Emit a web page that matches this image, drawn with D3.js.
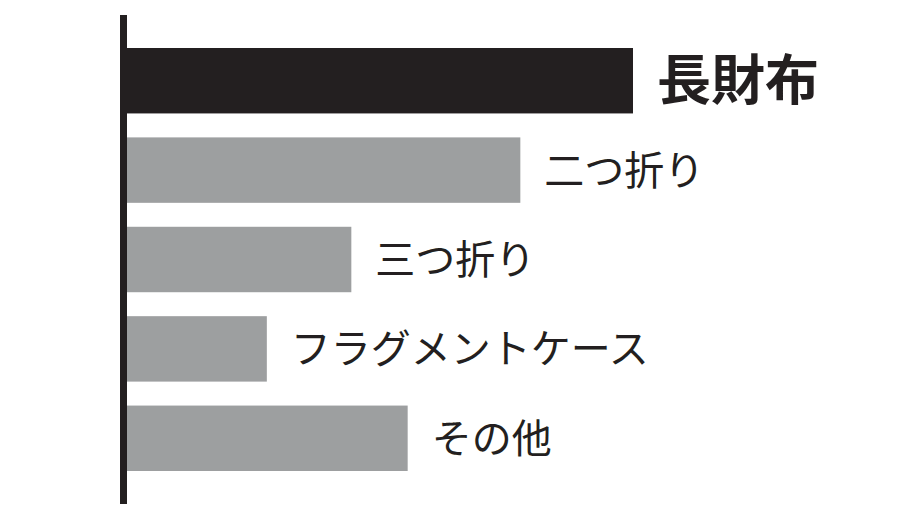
<!DOCTYPE html>
<html>
<head>
<meta charset="utf-8">
<script src="https://cdn.jsdelivr.net/npm/d3@7"></script>
<style>
  body { margin: 0; background: #fff; }
  text { font-family: "Noto Sans CJK JP", "Noto Sans", sans-serif; }
</style>
</head>
<body>
<div id="chart"></div>
<script>
// wallet type shares
const categories = ["長財布", "二つ折り", "三つ折り", "フラグメントケース", "その他"]
const values = [36, 28, 16, 10, 20]
const highlight = "長財布"

const width = 903
const height = 530

const svg = d3.select("#chart").append("svg")
    .attr("width", width)
    .attr("height", height)

const x = d3.scaleLinear()
    .domain([0, 36])
    .range([126, 633])

const y = d3.scaleBand()
    .domain(categories)
    .range([48, 471])
    .paddingInner(0.268)
    .paddingOuter(0)

const data = categories.map((c, i) => ({ name: c, value: values[i] }))

svg.selectAll(".bar")
    .data(data)
    .join("rect")
    .attr("class", "bar")
    .attr("x", x(0))
    .attr("y", d => y(d.name))
    .attr("width", d => x(d.value) - x(0))
    .attr("height", y.bandwidth())
    .attr("fill", d => d.name == highlight ? "#231f20" : "#9d9fa0")

svg.selectAll(".label")
    .data(data)
    .join("text")
    .attr("class", "label")
    .attr("x", d => x(d.value) + 24)
    .attr("y", d => y(d.name) + y.bandwidth() / 2)
    .attr("dy", "0.36em")
    .attr("fill", "#231f20")
    .attr("font-size", d => d.name == highlight ? 54 : 40)
    .attr("font-weight", d => d.name == highlight ? 700 : 400)
    .text(d => d.name)

// axis line
svg.append("line")
    .attr("x1", 123.5)
    .attr("x2", 123.5)
    .attr("y1", 15)
    .attr("y2", 504)
    .attr("stroke", "#231f20")
    .attr("stroke-width", 7)
</script>
</body>
</html>
